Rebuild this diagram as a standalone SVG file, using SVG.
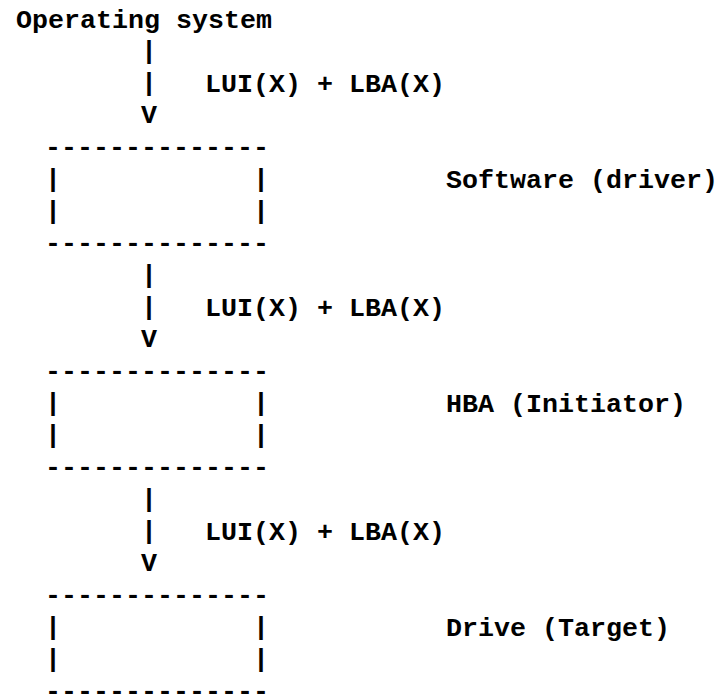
<svg xmlns="http://www.w3.org/2000/svg" width="717" height="694" viewBox="0 0 717 694">
<style>
text{font-family:"Liberation Mono","Courier New",monospace;font-weight:bold;font-size:26.67px;fill:#000}
</style>
<rect width="717" height="694" fill="#fff"/>
<g id="os"><text x="16" y="28">Operating system</text></g>
<g id="connectors">
<text x="141" y="59">|</text>
<text x="141" y="91">|</text>
<text x="205" y="92">LUI(X) + LBA(X)</text>
<text x="141" y="123">V</text>
<text x="141" y="283">|</text>
<text x="141" y="315">|</text>
<text x="205" y="316">LUI(X) + LBA(X)</text>
<text x="141" y="347">V</text>
<text x="141" y="507">|</text>
<text x="141" y="539">|</text>
<text x="205" y="540">LUI(X) + LBA(X)</text>
<text x="141" y="571">V</text>
</g>
<g id="software">
<text x="45" y="155">--------------</text>
<text x="45" y="187">|</text><text x="253" y="187">|</text>
<text x="45" y="219">|</text><text x="253" y="219">|</text>
<text x="45" y="251">--------------</text>
<text x="446" y="188">Software (driver)</text>
</g>
<g id="hba">
<text x="45" y="379">--------------</text>
<text x="45" y="411">|</text><text x="253" y="411">|</text>
<text x="45" y="443">|</text><text x="253" y="443">|</text>
<text x="45" y="475">--------------</text>
<text x="446" y="412">HBA (Initiator)</text>
</g>
<g id="drive">
<text x="45" y="603">--------------</text>
<text x="45" y="635">|</text><text x="253" y="635">|</text>
<text x="45" y="667">|</text><text x="253" y="667">|</text>
<text x="45" y="699">--------------</text>
<text x="446" y="636">Drive (Target)</text>
</g>
</svg>
